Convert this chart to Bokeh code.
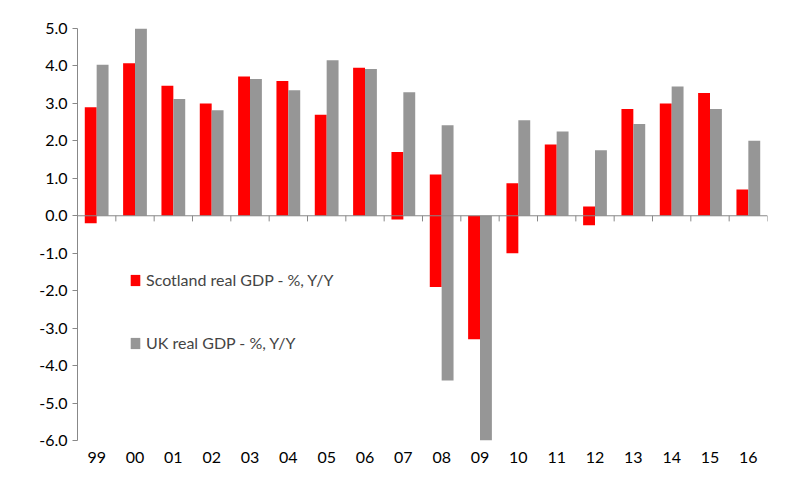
from bokeh.plotting import figure
from bokeh.models import Legend, LegendItem, Range1d, FixedTicker
from bokeh.embed import file_html
from bokeh.resources import INLINE

years = ["99","00","01","02","03","04","05","06","07","08","09","10","11","12","13","14","15","16"]
scot_top = [2.9,4.07,3.47,3.0,3.72,3.6,2.7,3.95,1.7,1.1,0,0.87,1.9,0.25,2.85,3.0,3.28,0.7]
scot_bot = [-0.2,0,0,0,0,0,0,0,-0.1,-1.9,-3.3,-1.0,0,-0.25,0,0,0,0]
uk_top = [4.03,5.02,3.12,2.82,3.65,3.35,4.15,3.92,3.3,2.42,0,2.55,2.25,1.75,2.45,3.45,2.85,2.0]
uk_bot = [0,0,0,0,0,0,0,0,0,-4.4,-6.0,0,0,0,0,0,0,0]

xs = list(range(len(years)))
p = figure(width=782, height=472, output_backend="svg", toolbar_location=None,
           x_range=Range1d(-0.5, len(years)-0.5), y_range=Range1d(-6, 5),
           min_border_left=77, min_border_right=15, min_border_top=28, min_border_bottom=32)
p.outline_line_color = None
p.grid.grid_line_color = None
FONT = "Lato"
r1 = p.vbar(x=[x-0.155 for x in xs], width=0.31, top=scot_top, bottom=scot_bot, fill_color="#ff0000", line_color=None)
r2 = p.vbar(x=[x+0.155 for x in xs], width=0.31, top=uk_top, bottom=uk_bot, fill_color="#969696", line_color=None)
p.segment(x0=[-0.5], x1=[len(years)-0.5], y0=[0], y1=[0], line_color="#888888", line_width=1)
bx = [x-0.5 for x in range(len(years)+1)]
p.segment(x0=bx, x1=bx, y0=[0]*len(bx), y1=[-0.15]*len(bx), line_color="#888888")

p.yaxis.ticker = FixedTicker(ticks=[-6,-5,-4,-3,-2,-1,0,1,2,3,4,5])
p.yaxis.major_label_overrides = {v: f"{v:.1f}" for v in range(-6,6)}
p.yaxis.major_label_text_font = FONT
p.yaxis.major_label_text_font_size = "16px"
p.yaxis.major_label_text_color = "#000000"
p.yaxis.axis_line_color = "#888888"
p.yaxis.major_tick_line_color = "#888888"
p.yaxis.major_tick_out = 5
p.yaxis.major_tick_in = 0
p.yaxis.minor_tick_line_color = None

p.xaxis.ticker = FixedTicker(ticks=xs)
p.xaxis.major_label_overrides = {i: y for i, y in enumerate(years)}
p.xaxis.major_label_text_font = FONT
p.xaxis.major_label_text_font_size = "16px"
p.xaxis.major_label_text_color = "#000000"
p.xaxis.axis_line_color = None
p.xaxis.major_tick_line_color = None
p.xaxis.minor_tick_line_color = None

leg = Legend(items=[LegendItem(label="Scotland real GDP - %, Y/Y", renderers=[r1]),
                    LegendItem(label="UK real GDP - %, Y/Y", renderers=[r2])],
             location=(52, 88), spacing=44, glyph_width=12, glyph_height=14,
             label_text_font=FONT, label_text_font_size="16px",
             background_fill_alpha=0, border_line_color=None)
p.add_layout(leg)
open("out.html", "w").write(file_html(p, INLINE))
